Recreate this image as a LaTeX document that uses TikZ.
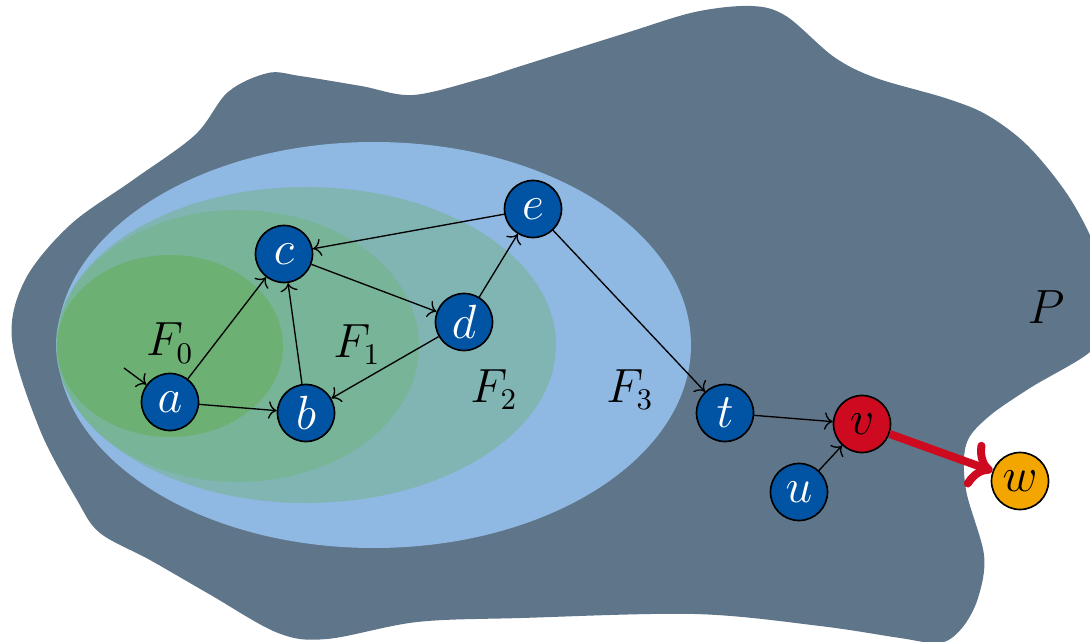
\documentclass[tikz,border=0pt]{standalone}
\usetikzlibrary{arrows.meta}
\definecolor{blobc}{RGB}{95,117,137}
\definecolor{fzero}{RGB}{108,177,115}
\definecolor{fone}{RGB}{120,180,152}
\definecolor{ftwo}{RGB}{128,181,180}
\definecolor{fthree}{RGB}{143,184,226}
\definecolor{nblue}{RGB}{0,84,163}
\definecolor{nred}{RGB}{205,10,32}
\definecolor{norange}{RGB}{244,166,0}
\tikzset{
  vtx/.style={circle,draw=black,line width=0.5pt,fill=nblue,text=white,minimum size=17.1pt,inner sep=0pt},
  redvtx/.style={vtx,fill=nred,text=black},
  orangevtx/.style={vtx,fill=norange,text=black},
  edge/.style={->,line width=0.4pt},
  bigedge/.style={->,draw=nred,line width=2.4pt},
}
\begin{document}
\begin{tikzpicture}[x=0.3pt,y=-0.3pt,font=\fontsize{13.5}{16}\selectfont]
\clip (0,0) rectangle (1090,642);
\fill[blobc] plot[smooth cycle,tension=0.55] coordinates {
(751,6) (786,16) (834,57) (876,78) (945,98) (987,115) (1029,147) (1071,200) (1100,260) (1110,320) (1090,352)
(1030,388) (987,418) (966,445) (966,490) (984,555) (978,598) (962,628) (940,643)
(900,638) (820,626) (695,614) (521,618) (417,622) (327,639) (278,633) (209,594) (150,560) (100,533) (77,500)
(40,430) (12,340) (25,280) (70,225) (133,180) (195,135) (228,92) (268,73) (300,76) (361,86) (413,95) (480,79) (521,66) (626,33) (695,12)};
\fill[fthree] (374,345) ellipse [x radius=95.1pt, y radius=60.9pt];
\fill[ftwo] (306,345) ellipse [x radius=75pt, y radius=47.4pt];
\fill[fone] (238,346) ellipse [x radius=54.3pt, y radius=40.8pt];
\fill[fzero] (170,346) ellipse [x radius=33.9pt, y radius=27.3pt];
\node (F0) at (170,343) {$F_0$};
\node (F1) at (357,345) {$F_1$};
\node (F2) at (494,390) {$F_2$};
\node (F3) at (630,390) {$F_3$};
\node (P) at (1046,307) {$P$};
\node[vtx] (a) at (170,402) {$a$};
\node[vtx] (b) at (306,413) {$b$};
\node[vtx] (c) at (284,254) {$c$};
\node[vtx] (d) at (464,322) {$d$};
\node[vtx] (e) at (533,209) {$e$};
\node[vtx] (t) at (725,413) {$t$};
\node[redvtx] (v) at (862,424) {$v$};
\node[vtx] (u) at (799,492) {$u$};
\node[orangevtx] (w) at (1020,481) {$w$};
\coordinate (s) at (124,368);
\draw[edge] (s) -- (a);
\draw[edge] (a) -- (c);
\draw[edge] (a) -- (b);
\draw[edge] (b) -- (c);
\draw[edge] (c) -- (d);
\draw[edge] (d) -- (b);
\draw[edge] (d) -- (e);
\draw[edge] (e) -- (c);
\draw[edge] (e) -- (t);
\draw[edge] (t) -- (v);
\draw[edge] (u) -- (v);
\draw[bigedge] (v) -- (w);
\end{tikzpicture}
\end{document}
